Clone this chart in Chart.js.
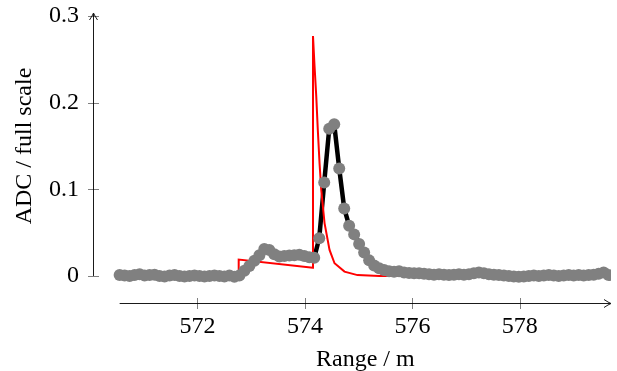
<!DOCTYPE html>
<html lang="en">
<head>
<meta charset="UTF-8">
<title>ADC / full scale vs range</title>
<script src="https://cdn.jsdelivr.net/npm/chart.js@4.4.1/dist/chart.umd.min.js"></script>
<style>
	html, body { margin: 0; padding: 0; background: #fff; }
	canvas { display: block; }
</style>
</head>
<body>
<canvas id="rangeChart" width="617" height="371"></canvas>
<script>
// Measured samples: range bins (m) and ADC value (fraction of full scale)
const rangeM = [
	570.551, 570.644, 570.737, 570.830, 570.923, 571.015, 571.108, 571.201, 571.294, 571.387,
	571.480, 571.573, 571.666, 571.758, 571.851, 571.944, 572.037, 572.130, 572.223, 572.316,
	572.409, 572.501, 572.594, 572.687, 572.780, 572.873, 572.966, 573.059, 573.152, 573.244,
	573.337, 573.430, 573.523, 573.616, 573.709, 573.802, 573.895, 573.988, 574.080, 574.173,
	574.266, 574.359, 574.452, 574.545, 574.638, 574.731, 574.823, 574.916, 575.009, 575.102,
	575.195, 575.288, 575.381, 575.474, 575.566, 575.659, 575.752, 575.845, 575.938, 576.031,
	576.124, 576.217, 576.310, 576.402, 576.495, 576.588, 576.681, 576.774, 576.867, 576.960,
	577.053, 577.145, 577.238, 577.331, 577.424, 577.517, 577.610, 577.703, 577.796, 577.888,
	577.981, 578.074, 578.167, 578.260, 578.353, 578.446, 578.539, 578.632, 578.724, 578.817,
	578.910, 579.003, 579.096, 579.189, 579.282, 579.375, 579.467, 579.560, 579.653,
];
const adcFullScale = [
	0.0010, 0.0005, 0.0000, 0.0010, 0.0020, 0.0005, 0.0010, 0.0015, 0.0000, -0.0005,
	0.0005, 0.0010, 0.0000, -0.0005, 0.0000, 0.0005, 0.0000, -0.0005, 0.0000, 0.0005,
	0.0000, -0.0005, 0.0005, -0.0010, 0.0005, 0.0060, 0.0115, 0.0175, 0.0240, 0.0310,
	0.0300, 0.0250, 0.0225, 0.0230, 0.0235, 0.0240, 0.0245, 0.0230, 0.0215, 0.0210,
	0.0435, 0.1080, 0.1700, 0.1750, 0.1240, 0.0780, 0.0580, 0.0480, 0.0370, 0.0270,
	0.0180, 0.0120, 0.0090, 0.0070, 0.0055, 0.0050, 0.0055, 0.0040, 0.0035, 0.0030,
	0.0030, 0.0025, 0.0020, 0.0015, 0.0020, 0.0015, 0.0010, 0.0015, 0.0020, 0.0015,
	0.0020, 0.0030, 0.0040, 0.0030, 0.0020, 0.0015, 0.0010, 0.0005, 0.0000, -0.0005,
	-0.0010, -0.0005, 0.0000, 0.0005, 0.0000, 0.0005, 0.0010, 0.0005, 0.0000, 0.0005,
	0.0010, 0.0005, 0.0010, 0.0005, 0.0010, 0.0015, 0.0025, 0.0040, 0.0010,
];

// Model trace (red)
const modelRangeM = [
	570.551, 572.767, 572.767, 574.147, 574.150, 574.179, 574.211, 574.240,
	574.272, 574.304, 574.365, 574.458, 574.551, 574.736, 574.978, 575.387, 579.653,
];
const modelAdc = [
	0.0, 0.0, 0.019, 0.0096, 0.277, 0.242, 0.207, 0.168,
	0.130, 0.099, 0.061, 0.030, 0.0147, 0.005, 0.001, 0.0, 0.0,
];

// Axis ticks
const xTicks = [572, 574, 576, 578];
const xTickLabels = ["572", "574", "576", "578"];
const yTicks = [0, 0.1, 0.2, 0.3];
const yTickLabels = ["0", "0.1", "0.2", "0.3"];

const FONT_FAMILY = '"Liberation Serif", "Times New Roman", serif';

/**
 * Draws a thin LaTeX-like arrow head with its tip at (x, y).
 */
function drawArrow(ctx, x, y, angle) {
	ctx.save();
	ctx.translate(x, y);
	ctx.rotate(angle);
	ctx.beginPath();
	ctx.moveTo(-7, -4);
	ctx.quadraticCurveTo(-2.5, -1, 0, 0);
	ctx.quadraticCurveTo(-2.5, 1, -7, 4);
	ctx.stroke();
	ctx.restore();
}

// Separate axis lines with arrows, crossing tick marks and axis titles
const axisLinesPlugin = {
	id: "axisLines",
	afterDraw(chart) {
		const { ctx, chartArea } = chart;
		const xs = chart.scales.x;
		const ys = chart.scales.y;

		const axisY = Math.round(chartArea.bottom) + 0.5;
		const axisX = Math.round(chartArea.left) + 0.5;
		const xStart = xs.getPixelForValue(rangeM[0]);
		const xEnd = chartArea.right;
		const yStart = ys.getPixelForValue(0);
		const yEnd = chartArea.top;

		ctx.save();
		ctx.strokeStyle = "#1a1a1a";
		ctx.lineWidth = 1;

		ctx.beginPath();
		ctx.moveTo(xStart, axisY);
		ctx.lineTo(xEnd, axisY);
		ctx.stroke();
		drawArrow(ctx, xEnd, axisY, 0);

		ctx.beginPath();
		ctx.moveTo(axisX, yStart);
		ctx.lineTo(axisX, yEnd);
		ctx.stroke();
		drawArrow(ctx, axisX, yEnd, -Math.PI / 2);

		// tick marks
		ctx.strokeStyle = "rgba(0, 0, 0, 0.5)";
		xTicks.forEach((v) => {
			const p = Math.round(xs.getPixelForValue(v)) + 0.5;
			ctx.beginPath();
			ctx.moveTo(p, axisY - 5.5);
			ctx.lineTo(p, axisY + 5.5);
			ctx.stroke();
		});
		yTicks.forEach((v) => {
			const p = Math.round(ys.getPixelForValue(v)) + 0.5;
			ctx.beginPath();
			ctx.moveTo(axisX - 5.5, p);
			ctx.lineTo(axisX + 5.5, p);
			ctx.stroke();
		});

		// axis titles
		ctx.fillStyle = "#000";
		ctx.font = "24px " + FONT_FAMILY;
		ctx.textAlign = "center";
		ctx.textBaseline = "alphabetic";
		ctx.fillText("Range / m", (xStart + xEnd) / 2, 366);

		ctx.translate(31, ys.getPixelForValue(0.15));
		ctx.rotate(-Math.PI / 2);
		ctx.fillText("ADC / full scale", 0, 0);
		ctx.restore();
	},
};

/**
 * Builds the range profile chart.
 */
function buildRangeChart() {
	const canvas = document.getElementById("rangeChart");
	if (!canvas) return;

	const measured = rangeM.map((r, i) => ({ x: r, y: adcFullScale[i] }));
	const model = modelRangeM.map((r, i) => ({ x: r, y: modelAdc[i] }));

	Chart.defaults.color = "#000";

	new Chart(canvas, {
		type: "scatter",
		data: {
			datasets: [
				{
					label: "Measured (line)",
					data: measured,
					showLine: true,
					borderColor: "#000",
					borderWidth: 4.5,
					borderJoinStyle: "round",
					pointRadius: 0,
					order: 3,
				},
				{
					label: "Model",
					data: model,
					showLine: true,
					borderColor: "#ff0000",
					borderWidth: 2,
					pointRadius: 0,
					order: 2,
				},
				{
					label: "Measured",
					data: measured,
					showLine: false,
					pointRadius: 6,
					pointBackgroundColor: "#808080",
					pointBorderWidth: 0,
					order: 1,
				},
			],
		},
		options: {
			responsive: false,
			animation: false,
			devicePixelRatio: 1,
			layout: { padding: { left: 0, top: 13, right: 5, bottom: 0 } },
			plugins: {
				legend: { display: false },
				tooltip: { enabled: false },
			},
			scales: {
				x: {
					type: "linear",
					min: 570.055,
					max: 579.697,
					grid: { display: false, drawTicks: false },
					border: { display: false },
					ticks: {
						font: { family: FONT_FAMILY, size: 24 },
						padding: 9,
						maxRotation: 0,
						autoSkip: false,
						callback: (v) => xTickLabels[xTicks.indexOf(v)],
					},
					afterBuildTicks: (s) => {
						s.ticks = xTicks.map((v) => ({ value: v }));
					},
					afterFit: (s) => {
						s.height = 68;
						s.paddingLeft = 0;
						s.paddingRight = 0;
					},
				},
				y: {
					type: "linear",
					min: -0.0312,
					max: 0.3035,
					grid: { display: false, drawTicks: false },
					border: { display: false },
					ticks: {
						font: { family: FONT_FAMILY, size: 24 },
						padding: 14,
						autoSkip: false,
						callback: (v) => yTickLabels[yTicks.indexOf(v)],
					},
					afterBuildTicks: (s) => {
						s.ticks = yTicks.map((v) => ({ value: v }));
					},
					afterFit: (s) => {
						s.width = 93;
						s.paddingTop = 0;
						s.paddingBottom = 0;
					},
				},
			},
		},
		plugins: [axisLinesPlugin],
	});
}

document.addEventListener("DOMContentLoaded", buildRangeChart);
</script>
</body>
</html>
